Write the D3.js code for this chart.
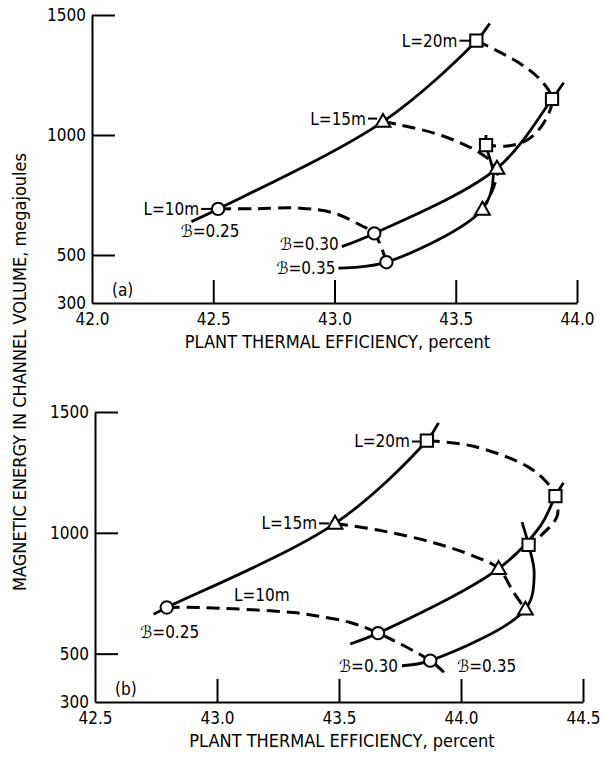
<!DOCTYPE html>
<html>
<head>
<meta charset="utf-8">
<script src="https://cdn.jsdelivr.net/npm/d3@7"></script>
<style>
  body { margin: 0; background: #fff; }
  svg { display: block; font-family: "Liberation Sans Narrow", "DejaVu Sans Condensed", "Liberation Sans", sans-serif; }
</style>
</head>
<body>
<svg id="chart" width="603" height="757"></svg>
<script>
// tick values
const effTicksA = [42.0, 42.5, 43.0, 43.5, 44.0];
const effTicksB = [42.5, 43.0, 43.5, 44.0, 44.5];
const energyTicks = [300, 500, 1000, 1500];

const lengthLabels = ["L=10m", "L=15m", "L=20m"];
const loadLabels = ["ℬ=0.25", "ℬ=0.30", "ℬ=0.35"];

// ---- panel (a) : [efficiency percent, energy MJ]
// markers, one array per channel length, ordered by load 0.25, 0.30, 0.35
const aCircles   = [[42.52, 692], [43.164, 590], [43.214, 470]];
const aTriangles = [[43.20, 1056], [43.67, 861], [43.61, 690]];
const aSquares   = [[43.585, 1393], [43.897, 1150], [43.625, 958]];
// solid curves, constant load
const aLoad25 = [[42.41, 639], [42.52, 692], [43.20, 1056], [43.585, 1393], [43.64, 1465]];
const aLoad30 = [[43.03, 535], [43.164, 590], [43.67, 861], [43.897, 1150], [43.945, 1218]];
const aLoad35 = [[43.016, 445], [43.214, 470], [43.61, 690], [43.655, 830], [43.625, 958], [43.625, 1000]];
// dashed curves, constant length
const aLen10 = [[42.52, 692], [42.67, 693], [42.86, 695], [43.0, 674], [43.106, 625], [43.164, 590], [43.214, 470]];
const aLen15 = [[43.20, 1056], [43.27, 1042], [43.41, 1008], [43.52, 967], [43.60, 925], [43.67, 861], [43.655, 780], [43.61, 690]];
const aLen20 = [[43.585, 1393], [43.752, 1306], [43.85, 1229], [43.897, 1150], [43.862, 1049], [43.794, 979], [43.711, 954], [43.625, 958]];

// ---- panel (b)
const bCircles   = [[42.794, 691], [43.66, 585], [43.874, 471]];
const bTriangles = [[43.484, 1039], [44.154, 852], [44.264, 684]];
const bSquares   = [[43.86, 1382], [44.387, 1152], [44.277, 950]];
const bLoad25 = [[42.74, 663], [42.794, 691], [43.484, 1039], [43.86, 1382], [43.908, 1455]];
const bLoad30 = [[43.546, 540], [43.66, 585], [44.154, 852], [44.325, 1028], [44.387, 1152], [44.42, 1207]];
const bLoad35 = [[43.758, 450], [43.874, 471], [44.264, 684], [44.30, 830], [44.277, 950], [44.25, 1044]];
const bLen10 = [[42.794, 691], [42.93, 691], [43.313, 670], [43.41, 656], [43.546, 629], [43.66, 585], [43.874, 471], [43.93, 423]];
const bLen15 = [[43.484, 1039], [43.683, 1007], [43.888, 959], [44.052, 904], [44.154, 852], [44.216, 753], [44.264, 684]];
const bLen20 = [[43.86, 1382], [44.052, 1358], [44.271, 1275], [44.353, 1207], [44.387, 1152], [44.394, 1069], [44.325, 987], [44.277, 950]];

const svg = d3.select("#chart");

const panels = [
    {
        tag: "(a)", xTicks: effTicksA, left: 92, right: 577, top: 15, bottom: 303,
        loads: [aLoad25, aLoad30, aLoad35],
        lengths: [aLen10, aLen15, aLen20],
        markers: [aCircles, aTriangles, aSquares],
        lenPos: [
            { at: aCircles[0], dx: -19, dy: 0, anchor: "end", leader: true },
            { at: aTriangles[0], dx: -17, dy: -3, anchor: "end", leader: true },
            { at: aSquares[0], dx: -19, dy: 0, anchor: "end", leader: true }
        ],
        loadPos: [
            { at: aCircles[0], dx: -8, dy: 22, anchor: "middle" },
            { at: aLoad30[0], dx: -3, dy: -3, anchor: "end" },
            { at: aLoad35[0], dx: -3, dy: 0, anchor: "end" }
        ]
    },
    {
        tag: "(b)", xTicks: effTicksB, left: 95, right: 583, top: 412, bottom: 702,
        loads: [bLoad25, bLoad30, bLoad35],
        lengths: [bLen10, bLen15, bLen20],
        markers: [bCircles, bTriangles, bSquares],
        lenPos: [
            { at: bCircles[0], dx: 95, dy: -12, anchor: "middle", leader: false },
            { at: bTriangles[0], dx: -18, dy: 0, anchor: "end", leader: true },
            { at: bSquares[0], dx: -17, dy: 1, anchor: "end", leader: true }
        ],
        loadPos: [
            { at: bCircles[0], dx: 3, dy: 25, anchor: "middle" },
            { at: bLoad35[0], dx: -4, dy: 0, anchor: "end" },
            { at: bCircles[2], dx: 27, dy: 5, anchor: "start" }
        ]
    }
];

const shapes = [d3.symbolCircle, d3.symbolTriangle, d3.symbolSquare];
const shapeSize = [120, 95, 150];

panels.forEach(drawPanel);

// shared vertical title
svg.append("text")
    .attr("transform", "translate(26,372) rotate(-90)")
    .attr("text-anchor", "middle")
    .attr("font-size", 18)
    .text("MAGNETIC ENERGY IN CHANNEL VOLUME, megajoules");

function drawPanel(p) {
    const x = d3.scaleLinear().domain([p.xTicks[0], p.xTicks[p.xTicks.length - 1]]).range([p.left, p.right]);
    const y = d3.scaleLinear().domain([300, 1500]).range([p.bottom, p.top]);
    const g = svg.append("g");

    const yAxis = g.append("g")
        .attr("transform", `translate(${p.left},0)`)
        .call(d3.axisLeft(y).tickValues(energyTicks).tickSizeInner(-23).tickSizeOuter(0)
            .tickPadding(6).tickFormat(d3.format("d")));
    const xAxis = g.append("g")
        .attr("transform", `translate(0,${p.bottom})`)
        .call(d3.axisBottom(x).tickValues(p.xTicks).tickSizeInner(-23).tickSizeOuter(0)
            .tickPadding(10).tickFormat(d3.format(".1f")));

    [xAxis, yAxis].forEach(a => {
        a.attr("font-family", null).attr("font-size", 17);
        a.select(".domain").attr("stroke-width", 2);
        a.selectAll(".tick line").attr("stroke-width", 2);
        a.selectAll(".tick text").attr("fill", "#000");
        // first tick sits on the other axis
        a.select(".tick line").remove();
    });

    g.append("text")
        .attr("x", (p.left + p.right) / 2 + 3)
        .attr("y", p.bottom + 45)
        .attr("text-anchor", "middle")
        .attr("font-size", 18)
        .text("PLANT THERMAL EFFICIENCY, percent");

    g.append("text")
        .attr("x", p.left + 20)
        .attr("y", p.bottom - 7)
        .attr("font-size", 17)
        .text(p.tag);

    const line = d3.line()
        .x(d => x(d[0]))
        .y(d => y(d[1]))
        .curve(d3.curveCatmullRom.alpha(0.5));

    g.selectAll(".len")
        .data(p.lengths)
        .join("path")
        .attr("class", "len")
        .attr("d", line)
        .attr("fill", "none")
        .attr("stroke", "#000")
        .attr("stroke-width", 3)
        .attr("stroke-dasharray", "13,7");

    g.selectAll(".load")
        .data(p.loads)
        .join("path")
        .attr("class", "load")
        .attr("d", line)
        .attr("fill", "none")
        .attr("stroke", "#000")
        .attr("stroke-width", 2.8);

    // leaders from length labels
    g.selectAll(".leader")
        .data(p.lenPos.filter(d => d.leader))
        .join("line")
        .attr("x1", d => x(d.at[0]) + d.dx + 2)
        .attr("x2", d => x(d.at[0]) - 6)
        .attr("y1", d => y(d.at[1]) + d.dy)
        .attr("y2", d => y(d.at[1]) + d.dy)
        .attr("stroke", "#000")
        .attr("stroke-width", 2);

    p.markers.forEach((pts, i) => {
        g.selectAll(".m" + i)
            .data(pts)
            .join("path")
            .attr("class", "m" + i)
            .attr("transform", d => `translate(${x(d[0])},${y(d[1]) + (i === 1 ? 1 : 0)})`)
            .attr("d", d3.symbol(shapes[i], shapeSize[i]))
            .attr("fill", "#fff")
            .attr("stroke", "#000")
            .attr("stroke-width", 2);
    });

    g.selectAll(".lenlab")
        .data(p.lenPos)
        .join("text")
        .attr("x", d => x(d.at[0]) + d.dx)
        .attr("y", d => y(d.at[1]) + d.dy)
        .attr("dy", "0.35em")
        .attr("text-anchor", d => d.anchor)
        .attr("font-size", 17)
        .text((d, i) => lengthLabels[i]);

    g.selectAll(".loadlab")
        .data(p.loadPos)
        .join("text")
        .attr("x", d => x(d.at[0]) + d.dx)
        .attr("y", d => y(d.at[1]) + d.dy)
        .attr("dy", "0.35em")
        .attr("text-anchor", d => d.anchor)
        .attr("font-size", 17)
        .text((d, i) => loadLabels[i]);
}
</script>
</body>
</html>
